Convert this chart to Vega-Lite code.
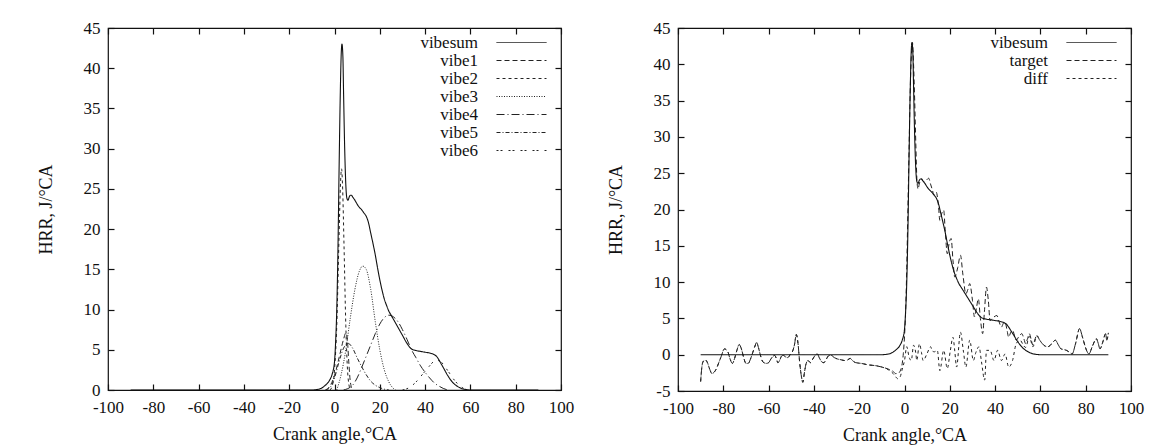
{
  "$schema": "https://vega.github.io/schema/vega-lite/v6.json",
  "background": "white",
  "padding": {"left": 36, "top": 18, "right": 10, "bottom": 2},
  "spacing": 31,
  "resolve": {"scale": {"strokeDash": "independent"}, "legend": {"strokeDash": "independent"}},
  "config": {
    "font": "Liberation Serif",
    "view": {"stroke": "#111", "strokeWidth": 1.2},
    "axis": {"labelFont": "Liberation Serif", "titleFont": "Liberation Serif", "labelFontSize": 17, "titleFontSize": 18, "titleFontWeight": "normal", "labelColor": "#111", "titleColor": "#111", "tickColor": "#111", "tickSize": -6, "tickWidth": 1.2, "domain": false, "grid": false, "labelOverlap": false, "labelFlush": false, "labelExpr": "'' + datum.value"},
    "legend": {"orient": "none", "legendX": 405, "legendY": 6, "symbolType": "M-5,0H5", "symbolSize": 100, "symbolStrokeWidth": 1, "symbolStrokeColor": "#222", "symbolFillColor": "transparent", "labelAlign": "right", "labelOffset": -52, "labelFont": "Liberation Serif", "labelFontSize": 17, "labelColor": "#111", "title": null, "padding": 0, "rowPadding": 0}
  },
  "datasets": {
    "sum": [
      {"x": -90, "y": 0}, {"x": -10, "y": 0}, {"x": -8, "y": 0.05}, {"x": -6, "y": 0.2}, {"x": -4, "y": 0.6}, {"x": -2, "y": 1.3}, {"x": -1, "y": 2.0}, {"x": 0, "y": 3.5}, {"x": 0.5, "y": 6}, {"x": 1, "y": 10}, {"x": 1.5, "y": 17}, {"x": 2, "y": 27}, {"x": 2.5, "y": 36}, {"x": 3, "y": 42}, {"x": 3.3, "y": 43}, {"x": 3.7, "y": 41.5}, {"x": 4, "y": 37}, {"x": 4.5, "y": 30}, {"x": 5, "y": 25.5}, {"x": 5.5, "y": 23.8}, {"x": 6, "y": 23.6}, {"x": 6.5, "y": 24}, {"x": 7, "y": 24.2}, {"x": 7.5, "y": 24.2}, {"x": 8, "y": 24}, {"x": 9, "y": 23.6}, {"x": 10, "y": 23.1}, {"x": 11, "y": 22.7}, {"x": 12, "y": 22.4}, {"x": 13, "y": 22}, {"x": 14, "y": 21.6}, {"x": 15, "y": 20.8}, {"x": 16, "y": 19.5}, {"x": 17, "y": 18.2}, {"x": 18, "y": 16.8}, {"x": 19, "y": 15.2}, {"x": 20, "y": 13.7}, {"x": 21, "y": 12.4}, {"x": 22, "y": 11.3}, {"x": 23, "y": 10.5}, {"x": 24, "y": 9.8}, {"x": 25, "y": 9.3}, {"x": 26, "y": 8.8}, {"x": 28, "y": 7.8}, {"x": 30, "y": 6.8}, {"x": 32, "y": 5.8}, {"x": 34, "y": 5.1}, {"x": 36, "y": 4.9}, {"x": 38, "y": 4.8}, {"x": 40, "y": 4.7}, {"x": 42, "y": 4.6}, {"x": 44, "y": 4.4}, {"x": 45, "y": 4.2}, {"x": 46, "y": 3.8}, {"x": 47, "y": 3.3}, {"x": 48, "y": 2.8}, {"x": 50, "y": 1.8}, {"x": 52, "y": 1.0}, {"x": 54, "y": 0.5}, {"x": 56, "y": 0.2}, {"x": 58, "y": 0.05}, {"x": 60, "y": 0}, {"x": 90, "y": 0}
    ],
    "comps": [
      {"s": "vibe1", "x": -4, "y": 0}, {"s": "vibe1", "x": -2, "y": 0.5}, {"s": "vibe1", "x": 0, "y": 1.8}, {"s": "vibe1", "x": 2, "y": 4}, {"s": "vibe1", "x": 4, "y": 6.3}, {"s": "vibe1", "x": 5, "y": 7.1}, {"s": "vibe1", "x": 5.6, "y": 6.5}, {"s": "vibe1", "x": 6.3, "y": 3.5}, {"s": "vibe1", "x": 7, "y": 1}, {"s": "vibe1", "x": 8, "y": 0},
      {"s": "vibe2", "x": -2, "y": 0}, {"s": "vibe2", "x": -1, "y": 0.5}, {"s": "vibe2", "x": 0, "y": 2.5}, {"s": "vibe2", "x": 1, "y": 8}, {"s": "vibe2", "x": 2, "y": 19}, {"s": "vibe2", "x": 2.7, "y": 26}, {"s": "vibe2", "x": 3.1, "y": 27.5}, {"s": "vibe2", "x": 3.6, "y": 25}, {"s": "vibe2", "x": 4.2, "y": 18}, {"s": "vibe2", "x": 5, "y": 8}, {"s": "vibe2", "x": 6, "y": 1.5}, {"s": "vibe2", "x": 7, "y": 0},
      {"s": "vibe3", "x": 1, "y": 0}, {"s": "vibe3", "x": 3, "y": 2}, {"s": "vibe3", "x": 5, "y": 5}, {"s": "vibe3", "x": 7, "y": 9}, {"s": "vibe3", "x": 9, "y": 12.5}, {"s": "vibe3", "x": 11, "y": 14.8}, {"s": "vibe3", "x": 12.5, "y": 15.4}, {"s": "vibe3", "x": 14, "y": 15}, {"s": "vibe3", "x": 16, "y": 12.5}, {"s": "vibe3", "x": 18, "y": 8.5}, {"s": "vibe3", "x": 20, "y": 5}, {"s": "vibe3", "x": 22, "y": 2.5}, {"s": "vibe3", "x": 24, "y": 1}, {"s": "vibe3", "x": 26, "y": 0.2}, {"s": "vibe3", "x": 27, "y": 0},
      {"s": "vibe4", "x": 4, "y": 0}, {"s": "vibe4", "x": 8, "y": 0.6}, {"s": "vibe4", "x": 10, "y": 1.5}, {"s": "vibe4", "x": 12, "y": 2.8}, {"s": "vibe4", "x": 14, "y": 4.2}, {"s": "vibe4", "x": 16, "y": 5.6}, {"s": "vibe4", "x": 18, "y": 7}, {"s": "vibe4", "x": 20, "y": 8.2}, {"s": "vibe4", "x": 22, "y": 9}, {"s": "vibe4", "x": 24, "y": 9.3}, {"s": "vibe4", "x": 26, "y": 9.1}, {"s": "vibe4", "x": 28, "y": 8.5}, {"s": "vibe4", "x": 30, "y": 7.5}, {"s": "vibe4", "x": 32, "y": 6.3}, {"s": "vibe4", "x": 34, "y": 5}, {"s": "vibe4", "x": 36, "y": 4}, {"s": "vibe4", "x": 38, "y": 3}, {"s": "vibe4", "x": 40, "y": 2.2}, {"s": "vibe4", "x": 42, "y": 1.5}, {"s": "vibe4", "x": 44, "y": 0.9}, {"s": "vibe4", "x": 46, "y": 0.5}, {"s": "vibe4", "x": 48, "y": 0.2}, {"s": "vibe4", "x": 50, "y": 0},
      {"s": "vibe5", "x": -4, "y": 0}, {"s": "vibe5", "x": -2, "y": 0.3}, {"s": "vibe5", "x": 0, "y": 1.5}, {"s": "vibe5", "x": 2, "y": 3.5}, {"s": "vibe5", "x": 4, "y": 5.2}, {"s": "vibe5", "x": 6, "y": 5.8}, {"s": "vibe5", "x": 8, "y": 5.2}, {"s": "vibe5", "x": 10, "y": 4.0}, {"s": "vibe5", "x": 12, "y": 2.9}, {"s": "vibe5", "x": 14, "y": 1.9}, {"s": "vibe5", "x": 16, "y": 1.1}, {"s": "vibe5", "x": 18, "y": 0.6}, {"s": "vibe5", "x": 20, "y": 0.3}, {"s": "vibe5", "x": 22, "y": 0.1}, {"s": "vibe5", "x": 24, "y": 0},
      {"s": "vibe6", "x": 30, "y": 0}, {"s": "vibe6", "x": 33, "y": 0.3}, {"s": "vibe6", "x": 36, "y": 1.0}, {"s": "vibe6", "x": 39, "y": 2.0}, {"s": "vibe6", "x": 42, "y": 3.0}, {"s": "vibe6", "x": 44, "y": 3.6}, {"s": "vibe6", "x": 45, "y": 3.7}, {"s": "vibe6", "x": 47, "y": 3.5}, {"s": "vibe6", "x": 49, "y": 2.8}, {"s": "vibe6", "x": 51, "y": 2}, {"s": "vibe6", "x": 53, "y": 1.2}, {"s": "vibe6", "x": 55, "y": 0.6}, {"s": "vibe6", "x": 57, "y": 0.2}, {"s": "vibe6", "x": 59, "y": 0}
    ],
    "target": [
      {"x": -90, "y": -3.7}, {"x": -89.5, "y": -1.8}, {"x": -89, "y": -1.0}, {"x": -88, "y": -0.7}, {"x": -87, "y": -1.1}, {"x": -86, "y": -2.0}, {"x": -85, "y": -2.6}, {"x": -84, "y": -2.4}, {"x": -83, "y": -1.9}, {"x": -82, "y": -1.1}, {"x": -81, "y": -0.3}, {"x": -79.5, "y": 0.8}, {"x": -78, "y": 0.4}, {"x": -77, "y": -0.6}, {"x": -76, "y": -1.2}, {"x": -75, "y": -0.5}, {"x": -74, "y": 0.6}, {"x": -73, "y": 1.4}, {"x": -72, "y": 0.8}, {"x": -71, "y": -0.4}, {"x": -70, "y": -1.2}, {"x": -69, "y": -1.2}, {"x": -68, "y": -0.6}, {"x": -67, "y": 0.3}, {"x": -66, "y": 1.2}, {"x": -65.3, "y": 1.7}, {"x": -64.5, "y": 1.0}, {"x": -63.5, "y": -0.2}, {"x": -62.5, "y": -1.0}, {"x": -61, "y": -1.2}, {"x": -60, "y": -1.1}, {"x": -59, "y": -0.6}, {"x": -58, "y": -0.2}, {"x": -57.3, "y": -0.1}, {"x": -56.5, "y": -0.6}, {"x": -55.9, "y": -1.1}, {"x": -55, "y": -0.7}, {"x": -54.3, "y": -0.2}, {"x": -53.5, "y": -0.1}, {"x": -52.5, "y": -0.3}, {"x": -51.5, "y": -0.4}, {"x": -50.5, "y": 0.0}, {"x": -49.5, "y": 0.4}, {"x": -48.5, "y": 1.5}, {"x": -47.8, "y": 2.8}, {"x": -47, "y": 1.5}, {"x": -46.3, "y": -1.0}, {"x": -45.5, "y": -3.0}, {"x": -44.9, "y": -3.8}, {"x": -44.2, "y": -2.5}, {"x": -43.5, "y": -1.3}, {"x": -42.6, "y": -0.8}, {"x": -41.5, "y": -1.1}, {"x": -40.5, "y": -0.6}, {"x": -39.5, "y": -0.1}, {"x": -38.5, "y": 0.1}, {"x": -37.5, "y": -0.5}, {"x": -36.5, "y": -1.0}, {"x": -35.6, "y": -1.1}, {"x": -34.5, "y": -0.6}, {"x": -33.3, "y": -0.1}, {"x": -32.3, "y": -0.1}, {"x": -31, "y": -0.4}, {"x": -29.5, "y": -0.6}, {"x": -28, "y": -0.7}, {"x": -26.5, "y": -0.8}, {"x": -25, "y": -0.7}, {"x": -24, "y": -0.5}, {"x": -23, "y": -0.8}, {"x": -21.5, "y": -1.1}, {"x": -19, "y": -1.2}, {"x": -16, "y": -1.4}, {"x": -13, "y": -1.5}, {"x": -10, "y": -1.7}, {"x": -7, "y": -2.0}, {"x": -5, "y": -2.3}, {"x": -4, "y": -2.6}, {"x": -3, "y": -2.6}, {"x": -2, "y": -2.3}, {"x": -1, "y": -1.2}, {"x": -0.5, "y": 0.2}, {"x": 0, "y": 2.5}, {"x": 0.5, "y": 6}, {"x": 1, "y": 12}, {"x": 1.5, "y": 20}, {"x": 2, "y": 28}, {"x": 2.5, "y": 36}, {"x": 3, "y": 41}, {"x": 3.5, "y": 43}, {"x": 4, "y": 40}, {"x": 4.5, "y": 35}, {"x": 5, "y": 29}, {"x": 5.5, "y": 24}, {"x": 6, "y": 22.8}, {"x": 6.5, "y": 23.5}, {"x": 7.5, "y": 24.2}, {"x": 8.5, "y": 23.8}, {"x": 9.5, "y": 24.0}, {"x": 10.7, "y": 24.3}, {"x": 11.5, "y": 23.5}, {"x": 12.3, "y": 22.7}, {"x": 13, "y": 22.0}, {"x": 14, "y": 22.4}, {"x": 15, "y": 20.5}, {"x": 15.6, "y": 18.5}, {"x": 16.5, "y": 19.5}, {"x": 17.3, "y": 19.9}, {"x": 18, "y": 17}, {"x": 18.9, "y": 13.9}, {"x": 19.8, "y": 15.5}, {"x": 20.6, "y": 16.0}, {"x": 21.4, "y": 13}, {"x": 22.2, "y": 10.7}, {"x": 23.5, "y": 12}, {"x": 24.7, "y": 13.7}, {"x": 25.8, "y": 11}, {"x": 27.1, "y": 8.4}, {"x": 28, "y": 9}, {"x": 28.8, "y": 9.8}, {"x": 30, "y": 7.5}, {"x": 30.9, "y": 5.2}, {"x": 31.8, "y": 6.5}, {"x": 32.6, "y": 7.7}, {"x": 33.5, "y": 5}, {"x": 34.5, "y": 2.9}, {"x": 35.3, "y": 6}, {"x": 36.2, "y": 9.3}, {"x": 37, "y": 7.5}, {"x": 37.8, "y": 4.7}, {"x": 38.7, "y": 5.0}, {"x": 39.5, "y": 5.2}, {"x": 40.8, "y": 5.4}, {"x": 41.8, "y": 4.5}, {"x": 42.8, "y": 3.8}, {"x": 43.6, "y": 4.3}, {"x": 44.4, "y": 4.5}, {"x": 45.2, "y": 3.5}, {"x": 46, "y": 2.4}, {"x": 46.8, "y": 3}, {"x": 47.7, "y": 3.4}, {"x": 48.5, "y": 2.7}, {"x": 49.3, "y": 2}, {"x": 50.5, "y": 2.5}, {"x": 51.8, "y": 2.9}, {"x": 52.7, "y": 2.2}, {"x": 53.5, "y": 1.5}, {"x": 54.3, "y": 2.2}, {"x": 55.1, "y": 2.9}, {"x": 56, "y": 2}, {"x": 56.7, "y": 1.3}, {"x": 57.5, "y": 2}, {"x": 58.4, "y": 2.7}, {"x": 59.5, "y": 2.1}, {"x": 60.9, "y": 1.5}, {"x": 62, "y": 1.2}, {"x": 63.3, "y": 1.1}, {"x": 65, "y": 1.5}, {"x": 66.6, "y": 2}, {"x": 68, "y": 1.3}, {"x": 69.1, "y": 0.8}, {"x": 70.5, "y": 0.7}, {"x": 71.5, "y": 0.6}, {"x": 73, "y": 0.3}, {"x": 74, "y": 0.1}, {"x": 75.5, "y": 1.5}, {"x": 77.3, "y": 3.6}, {"x": 78.5, "y": 2.5}, {"x": 79.8, "y": 1.1}, {"x": 80.5, "y": 0.5}, {"x": 81.4, "y": 0.1}, {"x": 83, "y": 1.2}, {"x": 84.7, "y": 2.2}, {"x": 85.5, "y": 1.6}, {"x": 86.3, "y": 0.8}, {"x": 87.5, "y": 1.7}, {"x": 88.8, "y": 2.9}, {"x": 89.3, "y": 2.0}, {"x": 90, "y": 3.0}
    ],
    "diff": [
      {"x": -90, "y": -3.7}, {"x": -89.5, "y": -1.8}, {"x": -89, "y": -1.0}, {"x": -88, "y": -0.7}, {"x": -87, "y": -1.1}, {"x": -86, "y": -2.0}, {"x": -85, "y": -2.6}, {"x": -84, "y": -2.4}, {"x": -83, "y": -1.9}, {"x": -82, "y": -1.1}, {"x": -81, "y": -0.3}, {"x": -79.5, "y": 0.8}, {"x": -78, "y": 0.4}, {"x": -77, "y": -0.6}, {"x": -76, "y": -1.2}, {"x": -75, "y": -0.5}, {"x": -74, "y": 0.6}, {"x": -73, "y": 1.4}, {"x": -72, "y": 0.8}, {"x": -71, "y": -0.4}, {"x": -70, "y": -1.2}, {"x": -69, "y": -1.2}, {"x": -68, "y": -0.6}, {"x": -67, "y": 0.3}, {"x": -66, "y": 1.2}, {"x": -65.3, "y": 1.7}, {"x": -64.5, "y": 1.0}, {"x": -63.5, "y": -0.2}, {"x": -62.5, "y": -1.0}, {"x": -61, "y": -1.2}, {"x": -60, "y": -1.1}, {"x": -59, "y": -0.6}, {"x": -58, "y": -0.2}, {"x": -57.3, "y": -0.1}, {"x": -56.5, "y": -0.6}, {"x": -55.9, "y": -1.1}, {"x": -55, "y": -0.7}, {"x": -54.3, "y": -0.2}, {"x": -53.5, "y": -0.1}, {"x": -52.5, "y": -0.3}, {"x": -51.5, "y": -0.4}, {"x": -50.5, "y": 0.0}, {"x": -49.5, "y": 0.4}, {"x": -48.5, "y": 1.5}, {"x": -47.8, "y": 2.8}, {"x": -47, "y": 1.5}, {"x": -46.3, "y": -1.0}, {"x": -45.5, "y": -3.0}, {"x": -44.9, "y": -3.8}, {"x": -44.2, "y": -2.5}, {"x": -43.5, "y": -1.3}, {"x": -42.6, "y": -0.8}, {"x": -41.5, "y": -1.1}, {"x": -40.5, "y": -0.6}, {"x": -39.5, "y": -0.1}, {"x": -38.5, "y": 0.1}, {"x": -37.5, "y": -0.5}, {"x": -36.5, "y": -1.0}, {"x": -35.6, "y": -1.1}, {"x": -34.5, "y": -0.6}, {"x": -33.3, "y": -0.1}, {"x": -32.3, "y": -0.1}, {"x": -31, "y": -0.4}, {"x": -29.5, "y": -0.6}, {"x": -28, "y": -0.7}, {"x": -26.5, "y": -0.8}, {"x": -25, "y": -0.7}, {"x": -24, "y": -0.5}, {"x": -23, "y": -0.8}, {"x": -21.5, "y": -1.1}, {"x": -19, "y": -1.2}, {"x": -16, "y": -1.4}, {"x": -13, "y": -1.5}, {"x": -10, "y": -1.7}, {"x": -7, "y": -2.1}, {"x": -5, "y": -2.6}, {"x": -4, "y": -3.0}, {"x": -3, "y": -3.3}, {"x": -2, "y": -3.1}, {"x": -1, "y": -2.0}, {"x": 0, "y": -0.8}, {"x": 1, "y": 1.1}, {"x": 2, "y": -0.3}, {"x": 3, "y": -0.8}, {"x": 4, "y": 1.3}, {"x": 5, "y": 0.2}, {"x": 5.4, "y": -0.8}, {"x": 6.6, "y": 1.5}, {"x": 7.5, "y": 0.3}, {"x": 8.2, "y": -0.8}, {"x": 9.9, "y": 0.1}, {"x": 11.5, "y": 1.1}, {"x": 12.3, "y": 0.5}, {"x": 13.2, "y": 0.4}, {"x": 14.5, "y": 0.6}, {"x": 15.6, "y": -2.2}, {"x": 17.3, "y": 0.6}, {"x": 18.9, "y": -1.9}, {"x": 20.2, "y": 0.5}, {"x": 21.4, "y": 2.4}, {"x": 22.2, "y": 0.5}, {"x": 23, "y": -1.7}, {"x": 24.7, "y": 3.1}, {"x": 26, "y": 0.5}, {"x": 27.1, "y": -1.7}, {"x": 28.8, "y": 2}, {"x": 30.4, "y": -0.8}, {"x": 31.5, "y": 0.3}, {"x": 32.9, "y": 1.1}, {"x": 34, "y": -1}, {"x": 35.4, "y": -3.5}, {"x": 36.2, "y": 0.6}, {"x": 37.8, "y": 0.6}, {"x": 39.5, "y": -0.8}, {"x": 41.1, "y": 0.6}, {"x": 42.8, "y": -0.8}, {"x": 44.4, "y": 0.1}, {"x": 46, "y": -1.7}, {"x": 47.7, "y": -0.8}, {"x": 49.3, "y": 1.5}, {"x": 51, "y": 2}, {"x": 52.7, "y": 1.2}, {"x": 53.5, "y": 1.0}, {"x": 55.1, "y": 2.5}, {"x": 56.7, "y": 1.1}, {"x": 58.4, "y": 2.6}, {"x": 59.5, "y": 2.1}, {"x": 60.9, "y": 1.5}, {"x": 62, "y": 1.2}, {"x": 63.3, "y": 1.1}, {"x": 65, "y": 1.5}, {"x": 66.6, "y": 2}, {"x": 68, "y": 1.3}, {"x": 69.1, "y": 0.8}, {"x": 70.5, "y": 0.7}, {"x": 71.5, "y": 0.6}, {"x": 73, "y": 0.3}, {"x": 74, "y": 0.1}, {"x": 75.5, "y": 1.5}, {"x": 77.3, "y": 3.6}, {"x": 78.5, "y": 2.5}, {"x": 79.8, "y": 1.1}, {"x": 80.5, "y": 0.5}, {"x": 81.4, "y": 0.1}, {"x": 83, "y": 1.2}, {"x": 84.7, "y": 2.2}, {"x": 85.5, "y": 1.6}, {"x": 86.3, "y": 0.8}, {"x": 87.5, "y": 1.7}, {"x": 88.8, "y": 2.9}, {"x": 89.3, "y": 2.0}, {"x": 90, "y": 3.0}
    ]
  },
  "hconcat": [
    {
      "width": 453,
      "height": 362,
      "resolve": {"axis": {"x": "independent", "y": "independent"}},
      "layer": [
        {
          "data": {"name": "comps"},
          "mark": {"type": "line", "stroke": "#222", "strokeWidth": 1, "interpolate": "monotone", "clip": true},
          "encoding": {
            "x": {"field": "x", "type": "quantitative", "scale": {"domain": [-100, 100], "nice": false}, "axis": {"values": [-100, -80, -60, -40, -20, 0, 20, 40, 60, 80, 100], "labelPadding": 15, "title": "Crank angle,°CA", "titlePadding": 10}},
            "y": {"field": "y", "type": "quantitative", "scale": {"domain": [0, 45], "nice": false}, "axis": {"values": [0, 5, 10, 15, 20, 25, 30, 35, 40, 45], "labelPadding": 14, "title": "HRR, J/°CA", "titlePadding": 28}},
            "strokeDash": {"field": "s", "type": "nominal", "scale": {"domain": ["vibesum", "vibe1", "vibe2", "vibe3", "vibe4", "vibe5", "vibe6"], "range": [[1, 0], [5, 3], [3, 3], [1, 1.5], [8, 3, 1, 3], [4, 2, 1, 2], [2, 2, 2, 6]]}}
          }
        },
        {
          "data": {"name": "sum"},
          "transform": [{"calculate": "'vibesum'", "as": "s"}],
          "mark": {"type": "line", "stroke": "#111", "strokeWidth": 1.1, "interpolate": "monotone", "clip": true},
          "encoding": {
            "x": {"field": "x", "type": "quantitative", "axis": {"orient": "top", "values": [-100, -80, -60, -40, -20, 0, 20, 40, 60, 80, 100], "labels": false, "title": null}},
            "y": {"field": "y", "type": "quantitative", "axis": {"orient": "right", "values": [0, 5, 10, 15, 20, 25, 30, 35, 40, 45], "labels": false, "title": null}},
            "strokeDash": {"field": "s", "type": "nominal"}
          }
        }
      ]
    },
    {
      "width": 453,
      "height": 363,
      "resolve": {"axis": {"x": "independent", "y": "independent"}},
      "layer": [
        {
          "data": {"name": "target"},
          "transform": [{"calculate": "'target'", "as": "s"}],
          "mark": {"type": "line", "stroke": "#222", "strokeWidth": 1, "interpolate": "monotone", "clip": true},
          "encoding": {
            "x": {"field": "x", "type": "quantitative", "scale": {"domain": [-100, 100], "nice": false}, "axis": {"values": [-100, -80, -60, -40, -20, 0, 20, 40, 60, 80, 100], "labelPadding": 15, "title": "Crank angle,°CA", "titlePadding": 10}},
            "y": {"field": "y", "type": "quantitative", "scale": {"domain": [-5, 45], "nice": false}, "axis": {"values": [-5, 0, 5, 10, 15, 20, 25, 30, 35, 40, 45], "labelPadding": 14, "title": "HRR, J/°CA", "titlePadding": 28}},
            "strokeDash": {"field": "s", "type": "nominal", "scale": {"domain": ["vibesum", "target", "diff"], "range": [[1, 0], [5, 3], [3, 3]]}}
          }
        },
        {
          "data": {"name": "diff"},
          "transform": [{"calculate": "'diff'", "as": "s"}],
          "mark": {"type": "line", "stroke": "#222", "strokeWidth": 1, "interpolate": "monotone", "clip": true},
          "encoding": {
            "x": {"field": "x", "type": "quantitative", "axis": {"orient": "top", "values": [-100, -80, -60, -40, -20, 0, 20, 40, 60, 80, 100], "labels": false, "title": null}},
            "y": {"field": "y", "type": "quantitative", "axis": {"orient": "right", "values": [-5, 0, 5, 10, 15, 20, 25, 30, 35, 40, 45], "labels": false, "title": null}},
            "strokeDash": {"field": "s", "type": "nominal"}
          }
        },
        {
          "data": {"name": "sum"},
          "transform": [{"calculate": "'vibesum'", "as": "s"}],
          "mark": {"type": "line", "stroke": "#111", "strokeWidth": 1.1, "interpolate": "monotone", "clip": true},
          "encoding": {
            "x": {"field": "x", "type": "quantitative", "axis": null},
            "y": {"field": "y", "type": "quantitative", "axis": null},
            "strokeDash": {"field": "s", "type": "nominal"}
          }
        }
      ]
    }
  ]
}
